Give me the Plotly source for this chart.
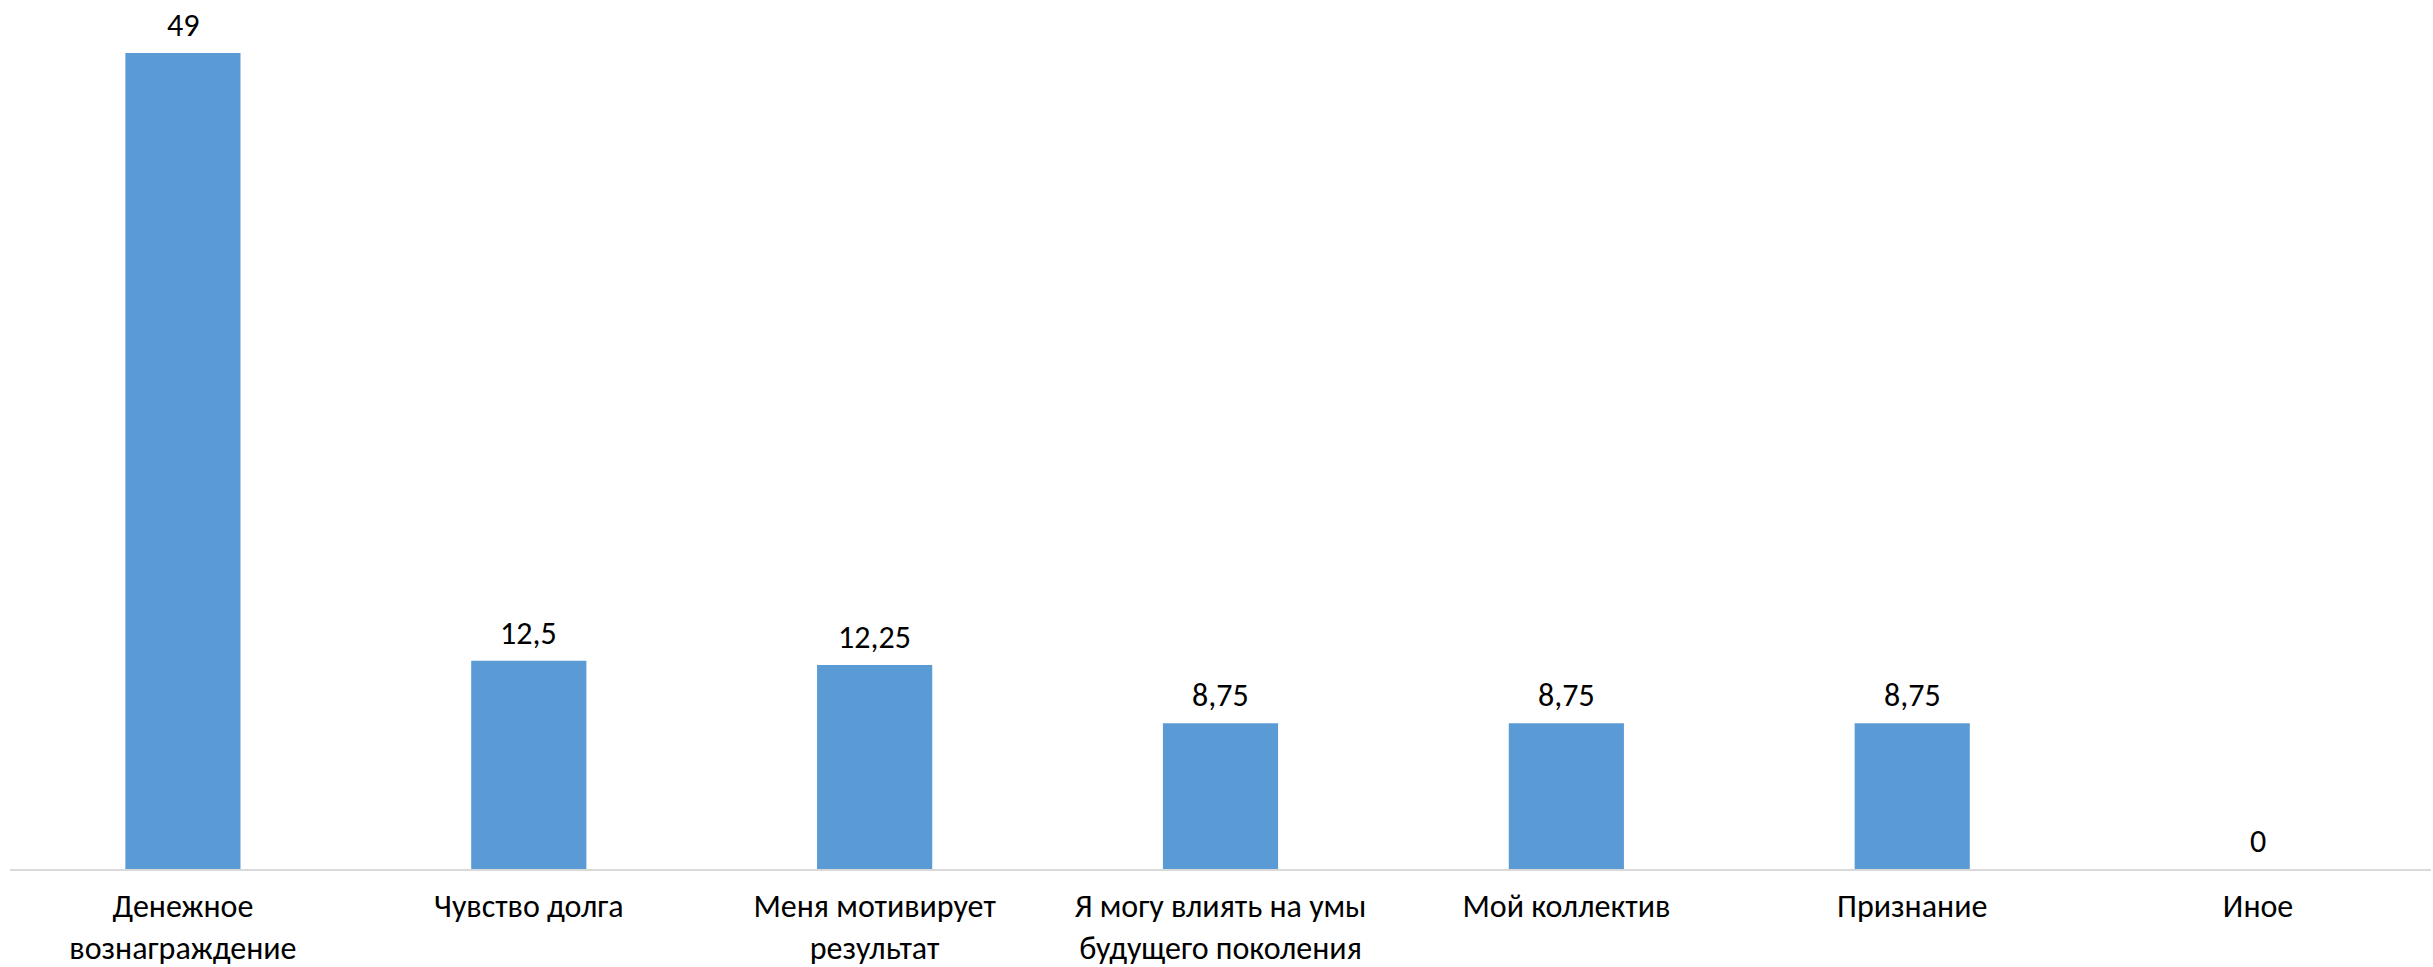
import plotly.graph_objects as go

categories = ["Денежное<br>вознаграждение", "Чувство долга", "Меня мотивирует<br>результат",
              "Я могу влиять на умы<br>будущего поколения", "Мой коллектив", "Признание", "Иное"]
values = [49, 12.5, 12.25, 8.75, 8.75, 8.75, 0]
value_labels = ["49", "12,5", "12,25", "8,75", "8,75", "8,75", "0"]

FONT = "Carlito, Calibri, Lato, 'Open Sans', sans-serif"
FS = 32

fig = go.Figure()
fig.add_trace(go.Bar(
    x=list(range(len(categories))), y=values,
    marker=dict(color="#5B9BD5", line=dict(width=0)),
    width=0.333,
    hoverinfo="skip",
))
for i, (v, t) in enumerate(zip(values, value_labels)):
    fig.add_annotation(x=i, y=v, text=t, showarrow=False, yanchor="bottom",
                       yshift=6, font=dict(family=FONT, size=FS, color="#000000"))

fig.update_layout(
    width=2433, height=967,
    margin=dict(l=10, r=2, t=8, b=98, autoexpand=False),
    paper_bgcolor="white", plot_bgcolor="white",
    showlegend=False,
    font=dict(family=FONT, size=FS, color="#000000"),
    xaxis=dict(
        range=[-0.5, 6.5],
        tickmode="array", tickvals=list(range(len(categories))), ticktext=categories,
        showline=True, linecolor="#D9D9D9", linewidth=2,
        showgrid=False, zeroline=False, ticks="",
        ticklabelstandoff=8, automargin=False,
        tickfont=dict(family=FONT, size=FS, color="#000000"),
    ),
    yaxis=dict(range=[0, 51.70], visible=False, showgrid=False, zeroline=False, automargin=False),
)

fig.write_html("out.html", config={"displayModeBar": False},
               post_script="document.body.style.margin='0';document.body.style.overflow='hidden';")
